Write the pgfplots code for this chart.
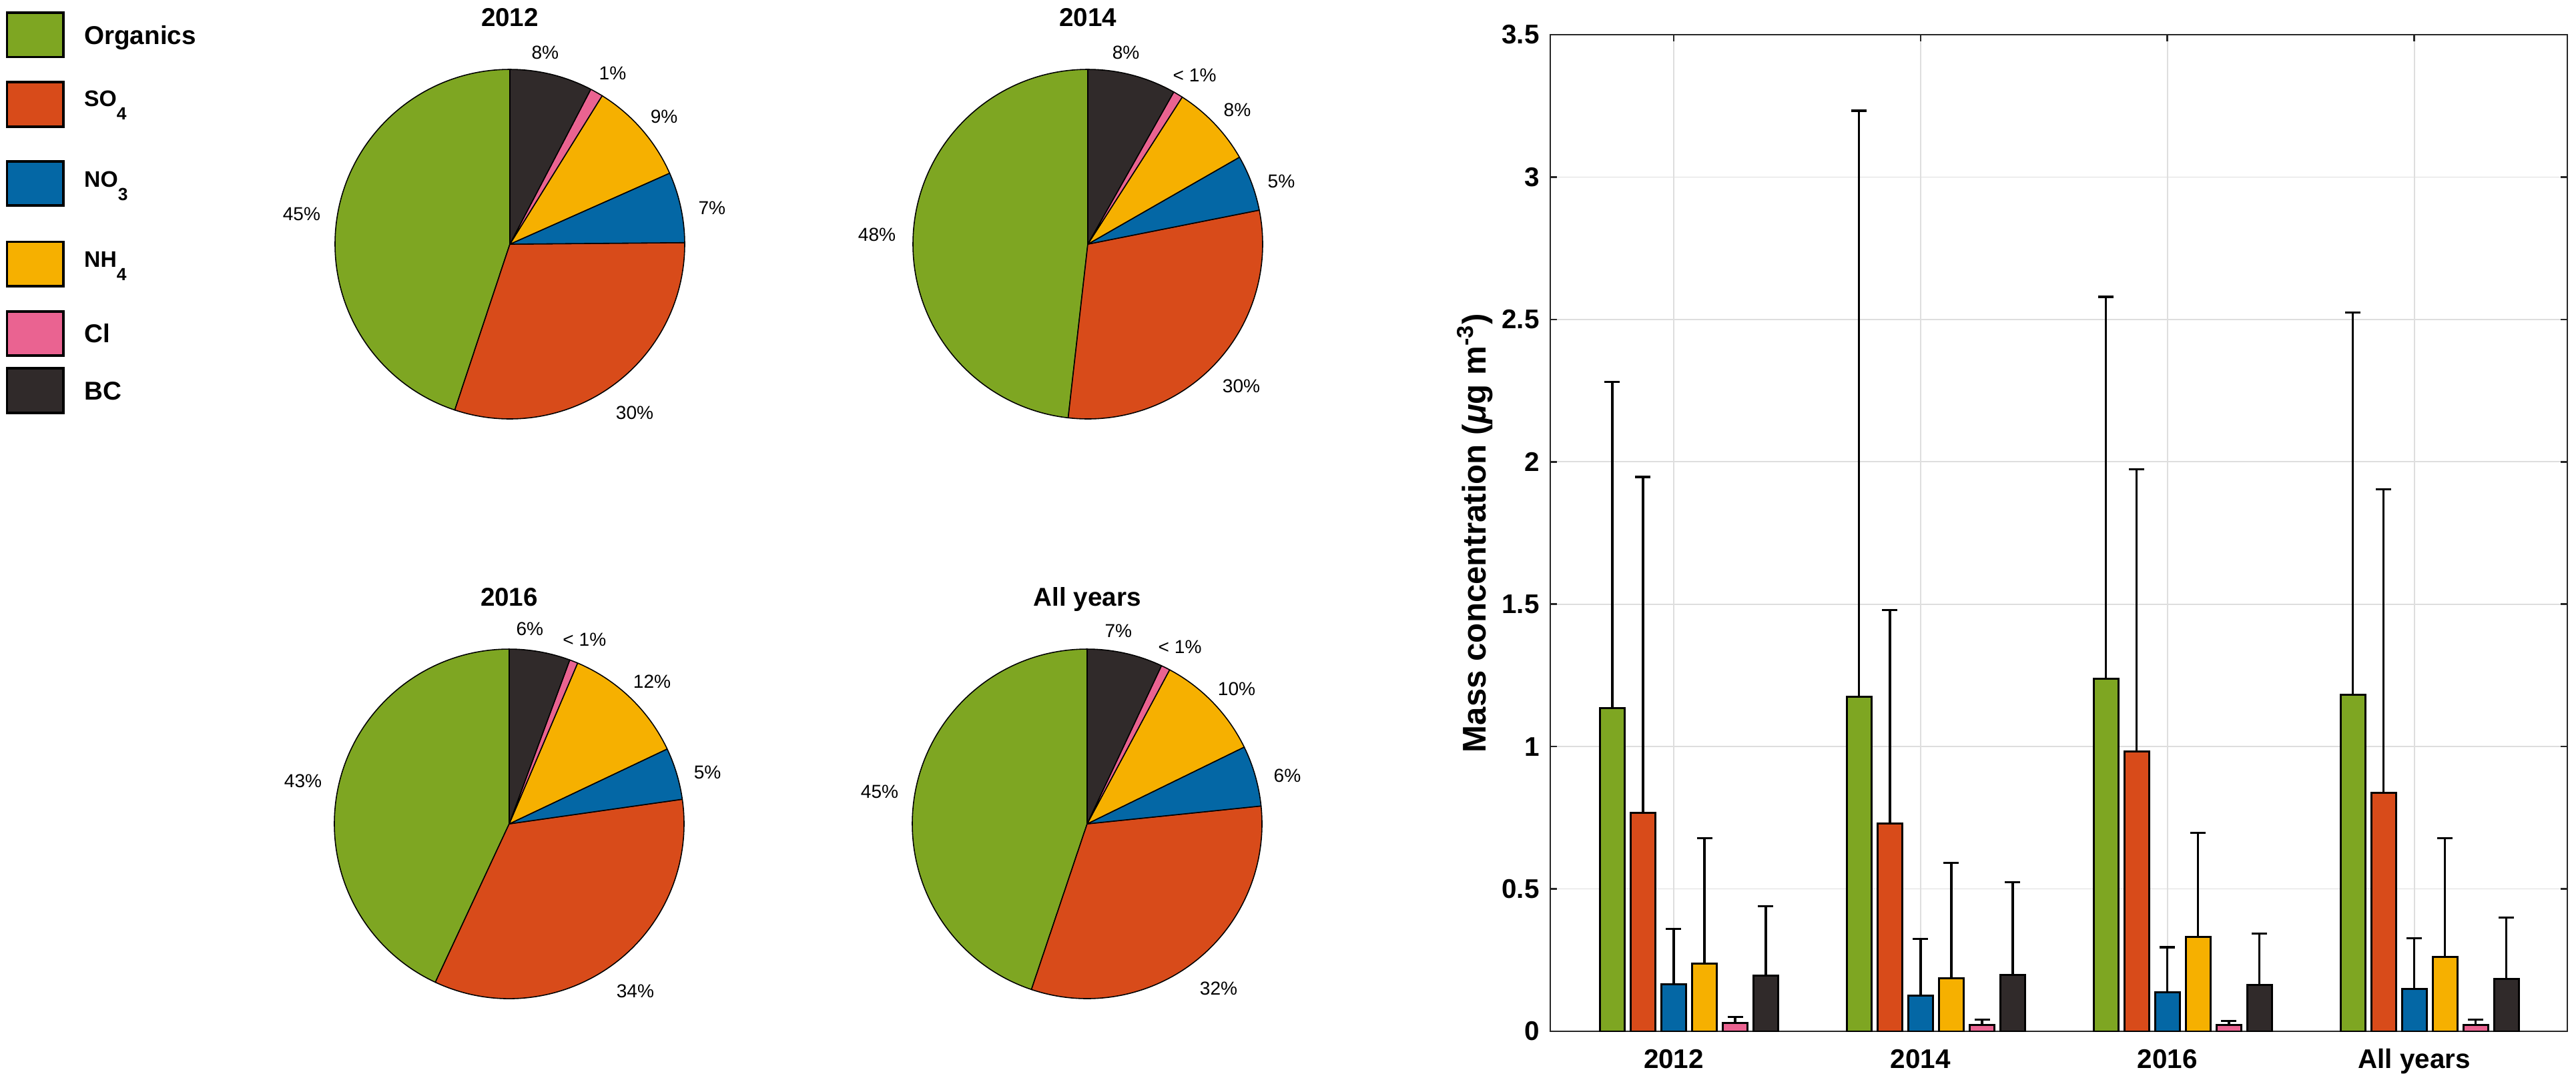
\documentclass[border=0pt]{standalone}
\usepackage{pgfplots}
\pgfplotsset{compat=1.18}
\usepackage{pgfplotstable}
\usepackage{fontspec}
\setmainfont{Liberation Sans}
\definecolor{cO}{RGB}{126,166,34}
\definecolor{cS}{RGB}{216,75,26}
\definecolor{cN}{RGB}{4,103,165}
\definecolor{cH}{RGB}{246,176,0}
\definecolor{cC}{RGB}{234,99,145}
\definecolor{cB}{RGB}{48,42,42}

% bar data: group, mean and upper error for each species
\pgfplotstableread{
g O Oe S Se N Ne H He C Ce B Be
1 1.136 1.145 0.767 1.180 0.166 0.193 0.239 0.439 0.030 0.020 0.195 0.245
2 1.175 2.058 0.729 0.751 0.126 0.199 0.186 0.405 0.022 0.019 0.199 0.324
3 1.238 1.341 0.983 0.991 0.138 0.157 0.332 0.365 0.022 0.014 0.162 0.182
4 1.182 1.342 0.838 1.066 0.148 0.179 0.262 0.416 0.022 0.019 0.184 0.216
}\bardata

% pie slice between cumulative percentages #1 and #2
\newcommand{\slice}[3]{\fill[#3, draw=black, line width=0.45pt, line join=round] (axis cs:0,0) -- +({90+3.6*#1}:26.2mm) arc[start angle={90+3.6*#1}, end angle={90+3.6*#2}, radius=26.2mm] -- cycle;}

\pgfplotsset{
  pieax/.style={width=52.4mm, height=52.4mm, scale only axis, xmin=-1, xmax=1, ymin=-1, ymax=1, hide axis, clip=false, anchor=center},
  mybar/.style={ybar, bar width=0.1, bar shift=0pt, draw=black, line width=0.85pt, fill=#1,
    error bars/.cd, y dir=plus, y explicit,
    error bar style={line width=0.95pt, black},
    error mark options={rotate=90, black, line width=0.95pt, mark size=1.15mm}},
}
\tikzset{
  ptitle/.style={anchor=base, font=\bfseries\fontsize{11}{13}\selectfont},
  pl/.style={anchor=center, font=\fontsize{8}{9.6}\selectfont},
}
\newcommand{\legsub}[1]{\raisebox{-2.0mm}{\fontsize{7.5}{8}\selectfont #1}}

\begin{document}
\begin{tikzpicture}
\useasboundingbox (0,0) rectangle (386mm,-162.4mm);

% ---------- legend ----------
\begin{scope}[line width=1pt]
\draw[fill=cO] (1.06mm,-1.88mm) rectangle (9.52mm,-8.54mm);
\draw[fill=cS] (1.06mm,-12.3mm) rectangle (9.52mm,-19.0mm);
\draw[fill=cN] (1.06mm,-24.2mm) rectangle (9.52mm,-30.8mm);
\draw[fill=cH] (1.06mm,-36.25mm) rectangle (9.52mm,-42.9mm);
\draw[fill=cC] (1.06mm,-46.7mm) rectangle (9.52mm,-53.3mm);
\draw[fill=cB] (1.06mm,-55.2mm) rectangle (9.52mm,-61.9mm);
\end{scope}
\begin{scope}[every node/.style={anchor=base west, inner sep=0pt, font=\bfseries\fontsize{11}{13}\selectfont}]
\node at (12.55mm,-6.65mm) {Organics};
\node[font=\bfseries\fontsize{9.6}{12}\selectfont] at (12.55mm,-15.95mm) {SO\legsub{4}};
\node[font=\bfseries\fontsize{9.6}{12}\selectfont] at (12.55mm,-28.0mm) {NO\legsub{3}};
\node[font=\bfseries\fontsize{9.6}{12}\selectfont] at (12.55mm,-40.0mm) {NH\legsub{4}};
\node at (12.55mm,-51.3mm) {Cl};
\node at (12.55mm,-59.9mm) {BC};
\end{scope}

% ---------- pie 2012 ----------
\begin{axis}[pieax, at={(76.4mm,-36.6mm)}]
\slice{0}{44.90}{cO}
\slice{44.90}{75.14}{cS}
\slice{75.14}{81.66}{cN}
\slice{81.66}{91.15}{cH}
\slice{91.15}{92.34}{cC}
\slice{92.34}{100}{cB}
\node[ptitle] at (axis cs:0,1.245) {2012};
\node[pl] at (axis cs:0.202,1.095) {8\%};
\node[pl] at (axis cs:0.588,0.977) {1\%};
\node[pl] at (axis cs:0.882,0.729) {9\%};
\node[pl] at (axis cs:1.156,0.206) {7\%};
\node[pl] at (axis cs:0.714,-0.966) {30\%};
\node[pl] at (axis cs:-1.191,0.172) {45\%};
\end{axis}

% ---------- pie 2014 ----------
\begin{axis}[pieax, at={(163.0mm,-36.6mm)}]
\slice{0}{48.21}{cO}
\slice{48.21}{78.12}{cS}
\slice{78.12}{83.29}{cN}
\slice{83.29}{90.92}{cH}
\slice{90.92}{91.82}{cC}
\slice{91.82}{100}{cB}
\node[ptitle] at (axis cs:0,1.245) {2014};
\node[pl] at (axis cs:0.218,1.095) {8\%};
\node[pl] at (axis cs:0.611,0.966) {< 1\%};
\node[pl] at (axis cs:0.855,0.767) {8\%};
\node[pl] at (axis cs:1.107,0.359) {5\%};
\node[pl] at (axis cs:0.878,-0.813) {30\%};
\node[pl] at (axis cs:-1.206,0.053) {48\%};
\end{axis}

% ---------- pie 2016 ----------
\begin{axis}[pieax, at={(76.3mm,-123.5mm)}]
\slice{0}{43.06}{cO}
\slice{43.06}{77.25}{cS}
\slice{77.25}{82.05}{cN}
\slice{82.05}{93.60}{cH}
\slice{93.60}{94.37}{cC}
\slice{94.37}{100}{cB}
\node[ptitle] at (axis cs:0,1.245) {2016};
\node[pl] at (axis cs:0.118,1.115) {6\%};
\node[pl] at (axis cs:0.431,1.053) {< 1\%};
\node[pl] at (axis cs:0.817,0.813) {12\%};
\node[pl] at (axis cs:1.134,0.294) {5\%};
\node[pl] at (axis cs:0.721,-0.958) {34\%};
\node[pl] at (axis cs:-1.179,0.244) {43\%};
\end{axis}

% ---------- pie all years ----------
\begin{axis}[pieax, at={(162.9mm,-123.5mm)}]
\slice{0}{44.84}{cO}
\slice{44.84}{76.63}{cS}
\slice{76.63}{82.24}{cN}
\slice{82.24}{92.18}{cH}
\slice{92.18}{93.01}{cC}
\slice{93.01}{100}{cB}
\node[ptitle] at (axis cs:0,1.245) {All years};
\node[pl] at (axis cs:0.179,1.103) {7\%};
\node[pl] at (axis cs:0.531,1.011) {< 1\%};
\node[pl] at (axis cs:0.855,0.771) {10\%};
\node[pl] at (axis cs:1.145,0.275) {6\%};
\node[pl] at (axis cs:0.752,-0.943) {32\%};
\node[pl] at (axis cs:-1.187,0.183) {45\%};
\end{axis}

% ---------- bar chart ----------
\begin{axis}[
  at={(232.3mm,-154.6mm)}, anchor=south west,
  width=152.4mm, height=149.4mm, scale only axis,
  xmin=0.5, xmax=4.62, ymin=0, ymax=3.5,
  xtick={1,2,3,4}, xticklabels={2012,2014,2016,All years},
  ytick={0,0.5,1,1.5,2,2.5,3,3.5},
  grid=major, major grid style={black!13, line width=0.5pt},
  tick align=inside, major tick length=1mm,
  axis line style={line width=0.75pt, black!85},
  tick style={line width=0.75pt, black!85},
  /pgf/number format/assume math mode=true,
  /pgf/number format/fixed,
  ticklabel style={font=\bfseries\fontsize{11.5}{13}\selectfont},
  xticklabel style={anchor=base, yshift=-5.5mm},
  yticklabel style={xshift=-0.4mm},
  ylabel={Mass concentration (\textit{μ}g m\textsuperscript{-3})},
  ylabel style={font=\bfseries\fontsize{14}{16}\selectfont, at={(axis description cs:-0.0741,0.5)}, anchor=center},
]
\addplot[mybar=cO] table[x expr=\thisrow{g}-0.249, y=O, y error=Oe] {\bardata};
\addplot[mybar=cS] table[x expr=\thisrow{g}-0.1244, y=S, y error=Se] {\bardata};
\addplot[mybar=cN] table[x expr=\thisrow{g}, y=N, y error=Ne] {\bardata};
\addplot[mybar=cH] table[x expr=\thisrow{g}+0.1244, y=H, y error=He] {\bardata};
\addplot[mybar=cC] table[x expr=\thisrow{g}+0.249, y=C, y error=Ce] {\bardata};
\addplot[mybar=cB] table[x expr=\thisrow{g}+0.373, y=B, y error=Be] {\bardata};
\end{axis}
\end{tikzpicture}
\end{document}
